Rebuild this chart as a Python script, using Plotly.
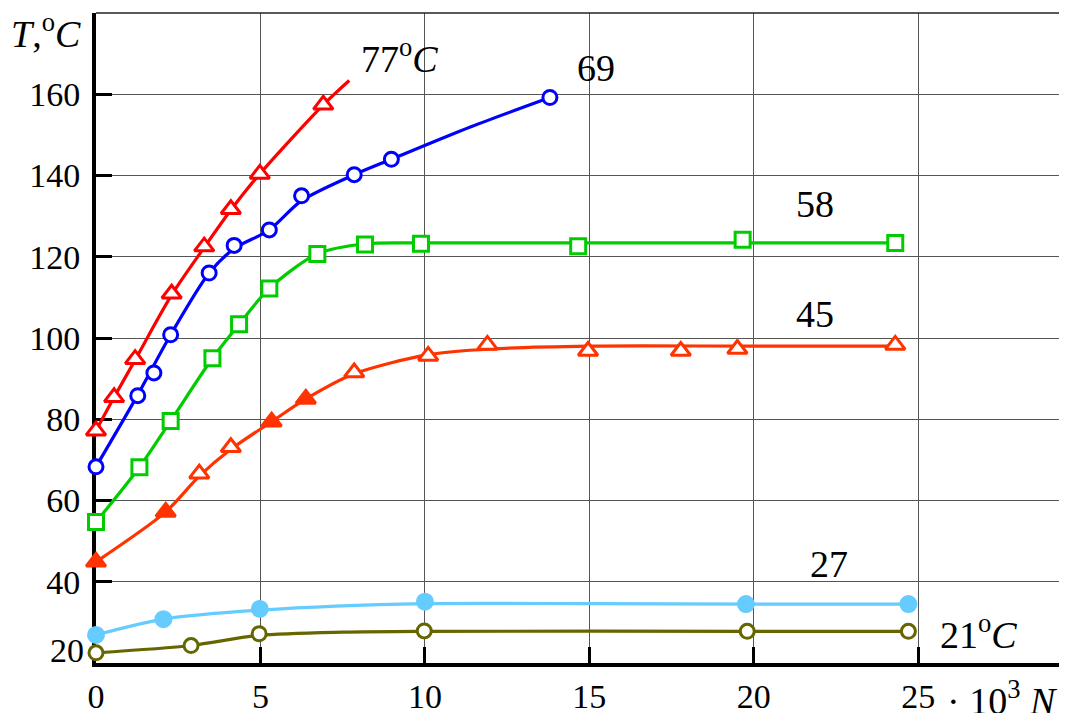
import plotly.graph_objects as go

# ---- data (x in 10^3 N, y in °C) ----
# 77 °C series (red, open triangles)
m77_x = [0, 0.55, 1.19, 2.3, 3.29, 4.1, 4.98, 6.91]
m77_y = [77.2, 85.4, 94.8, 110.9, 122.5, 131.7, 140.4, 157.4]
c77_x = [0, 0.55, 1.19, 2.3, 3.29, 4.1, 4.98, 6.91, 7.7]
c77_y = [77.2, 85.4, 94.6, 110.6, 122.3, 131.5, 140.4, 157.4, 163.4]

# 69 series (blue, open circles)
m69_x = [0, 1.27, 1.76, 2.27, 3.44, 4.2, 5.27, 6.25, 7.85, 8.98, 13.8]
m69_y = [68.3, 85.8, 91.4, 100.8, 116.0, 122.8, 126.6, 135.0, 140.2, 144.0, 159.2]
c69_x = [0, 1.27, 2.27, 3.44, 4.2, 5.27, 6.25, 7.85, 8.98, 11.4, 13.8]
c69_y = [68.3, 86.0, 100.8, 116.0, 122.0, 126.6, 133.8, 140.2, 144.0, 152.0, 159.2]

# 58 series (green, open squares)
m58_x = [0, 1.32, 2.27, 3.54, 4.35, 5.27, 6.73, 8.18, 9.88, 14.66, 19.66, 24.3]
m58_y = [54.7, 68.2, 79.6, 95.0, 103.4, 112.2, 120.7, 123.0, 123.2, 122.6, 124.2, 123.4]
c58_x = [0, 1.32, 2.27, 3.54, 4.35, 5.27, 6.73, 8.2, 10, 15, 20, 24.3]
c58_y = [54.7, 68.2, 79.6, 95.0, 103.4, 112.2, 120.7, 123.2, 123.4, 123.4, 123.4, 123.4]

# 45 series (orange-red triangles, some filled)
m45_x = [0, 2.12, 3.14, 4.1, 5.34, 6.38, 7.85, 10.1, 11.9, 14.96, 17.78, 19.5, 24.3]
m45_y = [44.9, 57.2, 66.6, 73.1, 79.4, 85.0, 91.5, 95.6, 98.3, 96.8, 96.8, 97.3, 98.3]
m45_filled = [True, True, False, False, True, True, False, False, False, False, False, False, False]
c45_x = [0, 2.12, 3.14, 4.1, 5.34, 6.38, 7.85, 10.1, 12, 15, 20, 24.3]
c45_y = [44.9, 57.2, 66.0, 72.6, 79.4, 85.0, 91.2, 95.9, 97.3, 98.0, 98.0, 98.0]

# 27 series (light blue, filled circles)
m27_x = [0, 2.05, 4.98, 10.0, 19.76, 24.7]
m27_y = [26.9, 30.8, 33.3, 35.1, 34.5, 34.5]
c27_x = [0, 2.05, 4.98, 10.0, 15, 20, 24.7]
c27_y = [26.9, 30.8, 33.0, 34.6, 34.6, 34.5, 34.5]

# 21 °C series (olive, open circles)
m21_x = [0, 2.89, 4.96, 9.98, 19.8, 24.7]
m21_y = [22.5, 24.3, 27.2, 27.9, 27.8, 27.8]
c21_x = [0, 2.89, 4.96, 7.5, 10, 20, 24.7]
c21_y = [22.5, 24.3, 26.8, 27.6, 27.8, 27.8, 27.8]

x_ticks = [0, 5, 10, 15, 20, 25]
x_tick_text = ["0", "5", "10", "15", "20", "25"]
y_ticks = [40, 60, 80, 100, 120, 140, 160]
y_tick_text = ["40", "60", "80", "100", "120", "140", "160"]

X_RANGE = [0, 29.4]
Y_RANGE = [20, 180]

SERIF = "Liberation Serif"
LW = 3.2

fig = go.Figure()

def add_series(cx, cy, mx, my, color, symbol, size, fill_colors):
    fig.add_trace(go.Scatter(x=cx, y=cy, mode="lines",
                             line=dict(color=color, width=LW, shape="spline", smoothing=0.8),
                             hoverinfo="skip", showlegend=False))
    fig.add_trace(go.Scatter(x=mx, y=my, mode="markers", cliponaxis=False,
                             marker=dict(symbol=symbol, size=size, color=fill_colors,
                                         line=dict(color=color, width=3)),
                             showlegend=False))

RED = "#ff0000"
BLUE = "#0000ff"
GREEN = "#00cc00"
ORANGE = "#ff3300"
LBLUE = "#66ccff"
OLIVE = "#666600"

add_series(c21_x, c21_y, m21_x, m21_y, OLIVE, "circle", 14, "white")
add_series(c27_x, c27_y, m27_x, m27_y, LBLUE, "circle", 15, LBLUE)
add_series(c45_x, c45_y, m45_x, m45_y, ORANGE, "triangle-up", 17,
           [ORANGE if f else "white" for f in m45_filled])
add_series(c58_x, c58_y, m58_x, m58_y, GREEN, "square", 15, "white")
add_series(c69_x, c69_y, m69_x, m69_y, BLUE, "circle", 14, "white")
add_series(c77_x, c77_y, m77_x, m77_y, RED, "triangle-up", 17, "white")

def ann_font():
    return dict(family=SERIF, size=38, color="black")

def tick_font():
    return dict(family=SERIF, size=34, color="black")

annotations = [
    dict(x=9.24, y=169.3, text="77<sup>o</sup><i>C</i>"),
    dict(x=15.2, y=166.4, text="69"),
    dict(x=21.85, y=132.9, text="58"),
    dict(x=21.85, y=105.9, text="45"),
    dict(x=22.3, y=44.4, text="27"),
    dict(x=26.84, y=27.6, text="21<sup>o</sup><i>C</i>"),
]
for a in annotations:
    fig.add_annotation(x=a["x"], y=a["y"], text=a["text"], showarrow=False,
                       xanchor="center", yanchor="middle", font=ann_font())

# axis titles and lowest y label (paper coordinates)
fig.add_annotation(xref="paper", yref="paper", x=-0.052, y=0.972,
                   text="<i>T</i>,<sup>o</sup><i>C</i>", showarrow=False,
                   xanchor="center", yanchor="middle", font=ann_font())
fig.add_annotation(xref="paper", yref="paper", x=0.878, y=-0.054,
                   text="· 10<sup>3</sup> <i>N</i>", showarrow=False,
                   xanchor="left", yanchor="middle", font=ann_font())
fig.add_annotation(xref="paper", yref="paper", x=-0.010, y=0.02,
                   text="20", showarrow=False,
                   xanchor="right", yanchor="middle", font=tick_font())

# frame: top and right border, tick at right end
fig.add_shape(type="line", xref="paper", yref="paper", x0=0, x1=1, y0=1, y1=1,
              line=dict(color="#222", width=1.5))
fig.add_shape(type="line", xref="paper", yref="paper", x0=1, x1=1, y0=0, y1=1,
              line=dict(color="#222", width=1.5))
fig.add_shape(type="line", xref="paper", yref="paper", x0=1, x1=1, y0=0, y1=0.025,
              line=dict(color="black", width=3))

fig.update_xaxes(range=X_RANGE, tickvals=x_ticks, ticktext=x_tick_text,
                 showgrid=True, gridcolor="#555", gridwidth=1,
                 showline=True, linecolor="black", linewidth=4,
                 ticks="inside", ticklen=16, tickwidth=3, tickcolor="black",
                 tickfont=tick_font(), ticklabelstandoff=0, zeroline=False,
                 automargin=False, layer="below traces")
fig.update_yaxes(range=Y_RANGE, tickvals=y_ticks, ticktext=y_tick_text,
                 showgrid=True, gridcolor="#555", gridwidth=1,
                 showline=True, linecolor="black", linewidth=4,
                 ticks="inside", ticklen=16, tickwidth=3, tickcolor="black",
                 tickfont=tick_font(), ticklabelstandoff=5, zeroline=False,
                 automargin=False, layer="below traces")

# the page body has an 8px margin, so the figure is offset by 8px
fig.update_layout(width=1059, height=705,
                  margin=dict(l=88, r=4, t=5, b=50, autoexpand=False),
                  plot_bgcolor="white", paper_bgcolor="white",
                  font=dict(family=SERIF, color="black"),
                  showlegend=False)

fig.write_html("out.html")
